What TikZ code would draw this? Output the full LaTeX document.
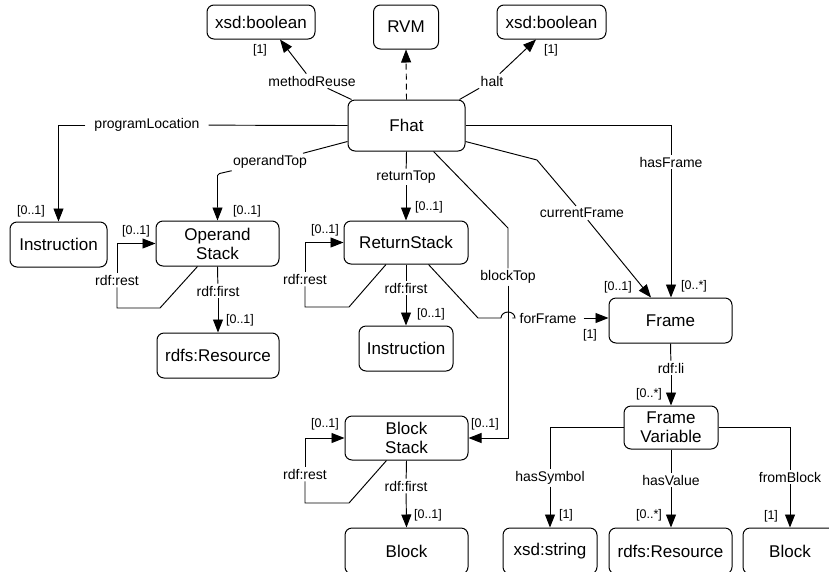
\documentclass[tikz,border=0pt]{standalone}
\usepackage{fontspec}
\setmainfont{Liberation Sans}
\usetikzlibrary{arrows.meta,calc}
\tikzset{
  box/.style={draw,line width=1pt,rounded corners=7pt,font=\fontsize{17}{19}\selectfont,align=center,inner sep=0pt},
  lbl/.style={fill=white,inner xsep=3pt,inner ysep=2pt,font=\fontsize{14}{16}\selectfont},
  mult/.style={inner sep=0pt,font=\fontsize{12.5}{14}\selectfont},
  edge/.style={line width=0.95pt},
  arr/.style={line width=0.95pt,-{Triangle[length=13pt,width=10pt]}},
}
\begin{document}
\begin{tikzpicture}[x=1pt,y=-1pt]
\useasboundingbox (0,0) rectangle (829,571);
% boxes
\node[box,minimum width=108pt,minimum height=34pt] (bool1) at (261,22) {xsd:boolean};
\node[box,minimum width=65pt,minimum height=44pt] (rvm) at (406,27) {RVM};
\node[box,minimum width=109pt,minimum height=34pt] (bool2) at (551.5,22) {xsd:boolean};
\node[box,minimum width=117pt,minimum height=51pt] (fhat) at (406.5,125.5) {Fhat};
\node[box,minimum width=97pt,minimum height=45pt] (instr1) at (58.5,244.5) {Instruction};
\node[box,minimum width=123pt,minimum height=45pt] (opstack) at (217.5,243.5) {Operand\\Stack};
\node[box,minimum width=122pt,minimum height=45pt] (res1) at (218,355.5) {rdfs:Resource};
\node[box,minimum width=124pt,minimum height=43pt] (retstack) at (406,242.5) {ReturnStack};
\node[box,minimum width=94pt,minimum height=45pt] (instr2) at (406,348.5) {Instruction};
\node[box,minimum width=123pt,minimum height=45pt] (frame) at (670.5,320.5) {Frame};
\node[box,minimum width=94pt,minimum height=43pt] (fvar) at (671,427.5) {Frame\\Variable};
\node[box,minimum width=123pt,minimum height=44pt] (bstack) at (406.5,438) {Block\\Stack};
\node[box,minimum width=123pt,minimum height=46pt] (block1) at (406.5,551) {Block};
\node[box,minimum width=94pt,minimum height=46pt] (xstr) at (550,551) {xsd:string};
\node[box,minimum width=123pt,minimum height=46pt] (res2) at (670.5,551) {rdfs:Resource};
\node[box,minimum width=94pt,minimum height=46pt] (block2) at (790,551) {Block};
% edge labels
\node[lbl] (mr) at (312,81) {methodReuse};
\node[lbl] (halt) at (492,81) {halt};
\node[lbl,inner xsep=9pt] (pl) at (147,125) {programLocation};
\node[lbl] (ot) at (270,162) {operandTop};
\node[lbl] (rt) at (406,177) {returnTop};
\node[lbl] (bt) at (508,277) {blockTop};
\node[lbl] (cf) at (582,213) {currentFrame};
\node[lbl] (hf) at (671,162) {hasFrame};
\node[lbl,inner xsep=7pt] (ff) at (548,318) {forFrame};
\node[lbl] (rest1) at (117,280) {rdf:rest};
\node[lbl] (first1) at (218,291) {rdf:first};
\node[lbl] (rest2) at (305,279) {rdf:rest};
\node[lbl] (first2) at (406,288) {rdf:first};
\node[lbl] (rest3) at (305,474) {rdf:rest};
\node[lbl] (first3) at (406,486) {rdf:first};
\node[lbl] (li) at (671,368) {rdf:li};
\node[lbl] (hs) at (550,478) {hasSymbol};
\node[lbl] (hv) at (671,480) {hasValue};
\node[lbl] (fb) at (790,477) {fromBlock};
% connectors
\draw[edge] ($(fhat.north west)+(4,0)$) -- (mr);
\draw[arr] (mr) -- ($(bool1.south)+(19,0)$);
\draw[arr,dashed,dash pattern=on 6pt off 4pt] (fhat.north) -- (rvm.south);
\draw[edge] ($(fhat.north east)+(-6,0)$) -- (halt);
\draw[arr] (halt) -- ($(bool2.south)+(-15.5,0)$);
\draw[edge] (fhat.west) -- (pl);
\draw[arr] (pl) -| (instr1.north);
\draw[edge] ($(fhat.west)+(0,16)$) -- (ot);
\draw[arr] (ot) -- ($(opstack.north)+(2,-47)$) -- ($(opstack.north)+(0,-45)$) -- (opstack.north);
\draw[edge] (fhat.south) -- (rt);
\draw[arr] (rt) -- (retstack.north);
\draw[edge] ($(fhat.south east)+(-32,0)$) -- (508,228) -- (bt);
\draw[arr] (bt) |- (bstack.east);
\draw[edge] ($(fhat.east)+(0,16)$) -- (537,160) -- (cf);
\draw[arr] (cf) -- ($(frame.north)+(-19.5,0)$);
\draw[edge] (fhat.east) -- (hf.north |- fhat.east) -- (hf);
\draw[arr] (hf) -- (hf.south |- frame.north);
\draw[edge] ($(retstack.south east)+(-40,0)$) -- (478,318) -- (501,318) arc[start angle=180,end angle=0,x radius=7pt,y radius=6pt] -- (ff);
\draw[arr] (ff) -- (ff -| frame.west);
\draw[edge] ($(opstack.south)+(-20,0)$) -- (160,308) -| (rest1);
\draw[arr] (rest1) |- (opstack.west);
\draw[edge] (opstack.south) -- (first1);
\draw[arr] (first1) -- (res1.north);
\draw[edge] ($(retstack.south)+(-20,0)$) -- (349,307) -| (rest2);
\draw[arr] (rest2) |- (retstack.west);
\draw[edge] (retstack.south) -- (first2);
\draw[arr] (first2) -- (instr2.north);
\draw[edge] ($(bstack.south)+(-20,0)$) -- (349,503) -| (rest3);
\draw[arr] (rest3) |- (bstack.west);
\draw[edge] (bstack.south) -- (first3);
\draw[arr] (first3) -- (block1.north);
\draw[edge] (frame.south) -- (li);
\draw[arr] (li) -- (fvar.north);
\draw[edge] (fvar.west) -| (hs);
\draw[arr] (hs) -- (xstr.north);
\draw[edge] (fvar.south) -- (hv);
\draw[arr] (hv) -- (hv |- res2.north);
\draw[edge] (fvar.east) -| (fb);
\draw[arr] (fb) -- (block2.north);
% multiplicities
\node[mult] (m1) at (260,50) {[1]};
\node[mult] (m2) at (551,50) {[1]};
\node[mult] (m3) at (31,211) {[0..1]};
\node[mult] (m4) at (247,211) {[0..1]};
\node[mult] (m5) at (136,231) {[0..1]};
\node[mult] (m6) at (240,320) {[0..1]};
\node[mult] (m7) at (429,207) {[0..1]};
\node[mult] (m8) at (325,230) {[0..1]};
\node[mult] (m9) at (431,314) {[0..1]};
\node[mult] (m10) at (618,287) {[0..1]};
\node[mult] (m11) at (694,286) {[0..*]};
\node[mult] (m12) at (590,335) {[1]};
\node[mult] (m13) at (485,424) {[0..1]};
\node[mult] (m14) at (325,424) {[0..1]};
\node[mult] (m15) at (428,515) {[0..1]};
\node[mult] (m16) at (649,394) {[0..*]};
\node[mult] (m17) at (566,515) {[1]};
\node[mult] (m18) at (649,515) {[0..*]};
\node[mult] (m19) at (771,516) {[1]};
\end{tikzpicture}
\end{document}
